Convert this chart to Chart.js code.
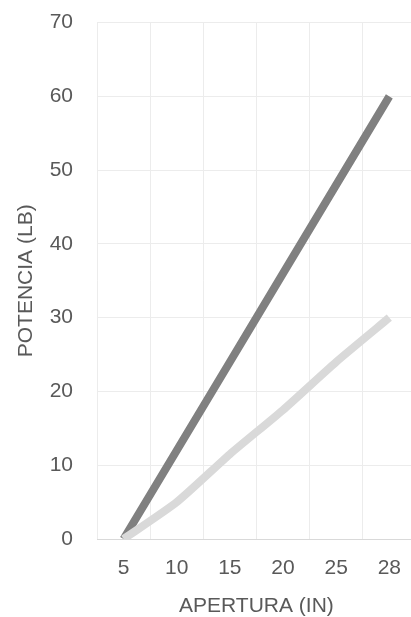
<!DOCTYPE html>
<html>
<head>
<meta charset="utf-8">
<script src="https://cdn.jsdelivr.net/npm/chart.js@4"></script>
<style>
  html, body { margin: 0; padding: 0; background: #ffffff; overflow: hidden; }
  #wrap { width: 418px; height: 617px; overflow: hidden; position: relative; }
  #chart { position: absolute; left: 0; top: -14px; }
</style>
</head>
<body>
<div id="wrap"><canvas id="chart" width="418" height="631"></canvas></div>
<script>
// Aperture sizes (inches) and the force (lb) for each curve
const apertura = ['5', '10', '15', '20', '25', '28'];
const potenciaAlta = [0, 12, 24, 36, 48, 60];
const potenciaBaja = [0, 5, 11.5, 17.5, 24, 30];
const yTicks = [0, 10, 20, 30, 40, 50, 60, 70];

const FONT = "'Liberation Sans', Arial, sans-serif";
const TEXT = '#595959';

new Chart(document.getElementById('chart'), {
  type: 'line',
  data: {
    labels: apertura,
    datasets: [
      {
        label: 'Baja',
        data: potenciaBaja,
        borderColor: '#d9d9d9',
        borderWidth: 8,
        pointRadius: 0,
        tension: 0.2,
        order: 0
      },
      {
        label: 'Alta',
        data: potenciaAlta,
        borderColor: '#808080',
        borderWidth: 8,
        pointRadius: 0,
        tension: 0,
        order: 1
      }
    ]
  },
  options: {
    responsive: false,
    animation: false,
    events: [],
    layout: { autoPadding: false, padding: 0 },
    plugins: { legend: { display: false }, tooltip: { enabled: false } },
    scales: {
      x: {
        offset: true,
        grid: { offset: true, color: '#ececec', lineWidth: 1, drawTicks: false },
        border: { color: '#d9d9d9' },
        ticks: { color: TEXT, font: { family: FONT, size: 21 }, padding: 17, maxRotation: 0 },
        title: { display: true, text: 'APERTURA (IN)', color: TEXT, font: { family: FONT, size: 21, lineHeight: 1 }, padding: { top: 0, bottom: 0 } },
        afterFit: (s) => { s.height = 78; }
      },
      y: {
        min: 0,
        max: 70,
        afterBuildTicks: (s) => { s.ticks = yTicks.map(v => ({ value: v })); },
        grid: { color: '#ececec', lineWidth: 1, drawTicks: false },
        border: { display: false },
        ticks: { color: TEXT, font: { family: FONT, size: 21 }, padding: 24 },
        title: { display: true, text: 'POTENCIA (LB)', color: TEXT, font: { family: FONT, size: 21 }, padding: { top: 14, bottom: 0 } },
        afterFit: (s) => { s.width = 97; }
      }
    }
  }
});
</script>
</body>
</html>
